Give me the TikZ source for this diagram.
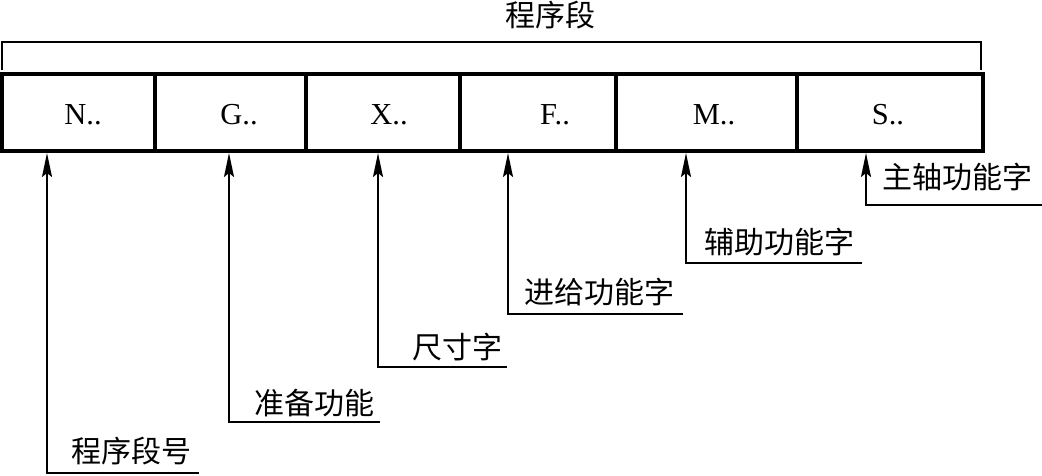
\documentclass[tikz,border=0pt]{standalone}
\usepackage{fontspec}
\setmainfont{Liberation Serif}
\newfontfamily\cjk{Noto Sans CJK SC}
\usetikzlibrary{arrows.meta}
\begin{document}
\begin{tikzpicture}[x=1pt,y=-1pt,
  cellbox/.style={draw,line width=4pt,inner sep=0pt,outer sep=0pt,minimum height=77pt,anchor=north west},
  celltext/.style={anchor=base,inner sep=0pt,font=\fontsize{30.5}{30.5}\selectfont},
  lab/.style={anchor=west,inner sep=0pt,font=\cjk\fontsize{30}{30}\selectfont},
  conn/.style={line width=2pt,-{Stealth[length=24pt,width=10pt,inset=4pt]}},
  brk/.style={line width=2pt}]
\useasboundingbox (0,0) rectangle (1042,475);
% cells
\node[cellbox,minimum width=153pt] (cN) at (2,74) {};
\node[cellbox,minimum width=151pt] (cG) at (155,74) {};
\node[cellbox,minimum width=154pt] (cX) at (306,74) {};
\node[cellbox,minimum width=156pt] (cF) at (460,74) {};
\node[cellbox,minimum width=181pt] (cM) at (616,74) {};
\node[cellbox,minimum width=186pt] (cS) at (797,74) {};
% cell texts
\node[celltext] (tN) at (83,124) {N..};
\node[celltext] (tG) at (239,124) {G..};
\node[celltext] (tX) at (389,124) {X..};
\node[celltext] (tF) at (555,124) {F..};
\node[celltext] (tM) at (714,124) {M..};
\node[celltext] (tS) at (888,124) {S..};
% bracket and title
\coordinate (b1) at (2,70);
\coordinate (b2) at (981,70);
\coordinate (btop) at (0,42);
\draw[brk] (b1) |- (btop -| b2) -- (b2);
\node[lab] (title) at (505,15) {程序段};
% labels
\node[lab] (lN) at (71,451) {程序段号};
\node[lab] (lG) at (254,403) {准备功能};
\node[lab] (lX) at (412,347) {尺寸字};
\node[lab] (lF) at (524,292) {进给功能字};
\node[lab] (lM) at (704,242) {辅助功能字};
\node[lab] (lS) at (882,177) {主轴功能字};
% connector ends
\coordinate (eN) at (199,473);
\coordinate (eG) at (380,422);
\coordinate (eX) at (507,367);
\coordinate (eF) at (683,314);
\coordinate (eM) at (862,263);
\coordinate (eS) at (1042,205);
% arrow tips on the cells
\coordinate (pN) at (47,153);
\coordinate (pG) at (229,153);
\coordinate (pX) at (378,153);
\coordinate (pF) at (508,153);
\coordinate (pM) at (686,153);
\coordinate (pS) at (866,153);
\draw[conn] (eN) -| (pN);
\draw[conn] (eG) -| (pG);
\draw[conn] (eX) -| (pX);
\draw[conn] (eF) -| (pF);
\draw[conn] (eM) -| (pM);
\draw[conn] (eS) -| (pS);
\end{tikzpicture}
\end{document}
